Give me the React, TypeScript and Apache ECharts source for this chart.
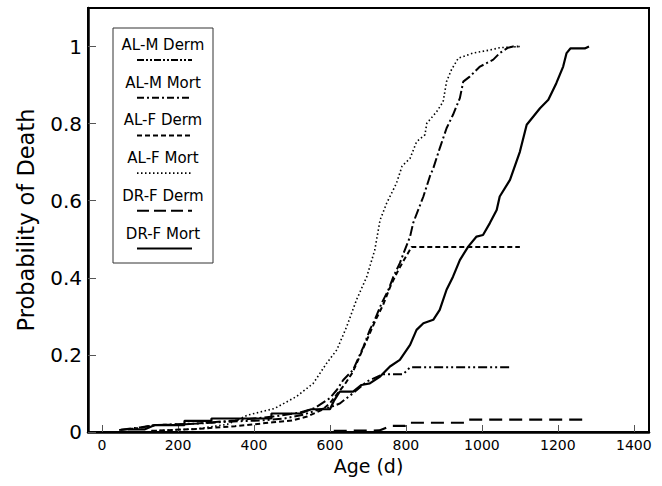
import React, { useEffect, useRef } from "react";
import * as echarts from "echarts";

const xTicks = [0, 200, 400, 600, 800, 1000, 1200, 1400];
const yTicks = [0, 0.2, 0.4, 0.6, 0.8, 1];
const xAxisName = "Age (d)";
const yAxisName = "Probability of Death";
const seriesNames = ["AL-M Derm", "AL-M Mort", "AL-F Derm", "AL-F Mort", "DR-F Derm", "DR-F Mort"];

// [age (d), probability]
const alMDerm = [
  [45, 0.005], [95, 0.01], [140, 0.018], [220, 0.02], [300, 0.025], [360, 0.028], [420, 0.03],
  [480, 0.035], [530, 0.045], [570, 0.058], [600, 0.064], [626, 0.074], [660, 0.1], [697, 0.131],
  [740, 0.15], [793, 0.15], [811, 0.168], [1078, 0.168],
];
const alMMort = [
  [50, 0.006], [100, 0.012], [140, 0.018], [250, 0.022], [350, 0.03], [450, 0.04], [520, 0.05],
  [560, 0.062], [600, 0.088], [618, 0.109], [635, 0.135], [661, 0.161], [688, 0.221], [705, 0.265],
  [718, 0.291], [736, 0.334], [754, 0.369], [767, 0.403], [784, 0.438], [797, 0.472], [811, 0.507],
  [819, 0.542], [846, 0.611], [863, 0.663], [872, 0.684], [889, 0.736], [907, 0.788], [924, 0.823],
  [942, 0.866], [951, 0.909], [968, 0.922], [995, 0.948], [1030, 0.966], [1047, 0.983],
  [1069, 0.997], [1082, 1.0], [1095, 1.0],
];
const alFDerm = [
  [130, 0.003], [250, 0.008], [350, 0.015], [400, 0.02], [450, 0.025], [500, 0.03], [540, 0.04],
  [580, 0.058], [600, 0.075], [620, 0.1], [640, 0.125], [660, 0.155], [680, 0.2], [700, 0.245],
  [720, 0.29], [740, 0.33], [760, 0.38], [780, 0.42], [800, 0.455], [815, 0.48], [1100, 0.48],
];
const alFMort = [
  [130, 0.003], [250, 0.008], [330, 0.02], [384, 0.044], [454, 0.061], [512, 0.092], [556, 0.126],
  [591, 0.178], [618, 0.213], [644, 0.273], [670, 0.343], [697, 0.403], [718, 0.472], [732, 0.55],
  [749, 0.593], [775, 0.645], [790, 0.69], [811, 0.71], [828, 0.753], [850, 0.771], [855, 0.801],
  [881, 0.831], [898, 0.857], [907, 0.909], [920, 0.94], [938, 0.97], [977, 0.983], [1021, 0.991],
  [1047, 0.997], [1100, 1.0],
];
const drFDerm = [
  [610, 0.003], [730, 0.004], [745, 0.01], [760, 0.016], [798, 0.016], [802, 0.024], [955, 0.024],
  [960, 0.032], [1280, 0.032],
];
const drFMort = [
  [68, 0.007], [113, 0.007], [139, 0.018], [217, 0.018], [217, 0.029], [288, 0.029], [288, 0.035],
  [446, 0.035], [446, 0.048], [521, 0.048], [551, 0.059], [600, 0.059], [610, 0.08], [626, 0.105],
  [661, 0.105], [683, 0.122], [705, 0.126], [732, 0.144], [758, 0.17], [784, 0.187], [802, 0.213],
  [811, 0.226], [828, 0.265], [846, 0.282], [872, 0.291], [889, 0.317], [907, 0.369], [924, 0.403],
  [942, 0.446], [964, 0.481], [986, 0.507], [1003, 0.511], [1021, 0.542], [1039, 0.576],
  [1047, 0.611], [1074, 0.654], [1100, 0.727], [1118, 0.797], [1135, 0.818], [1153, 0.84],
  [1175, 0.862], [1196, 0.905], [1214, 0.948], [1223, 0.983], [1233, 0.995], [1271, 0.995],
  [1282, 1.0],
];

const seriesData = [alMDerm, alMMort, alFDerm, alFMort, drFDerm, drFMort];
const lineTypes: any[] = [
  [9, 3, 2, 3, 2, 3],
  [10, 3, 2, 3],
  [5, 3],
  [1.5, 2.5],
  [13, 7],
  "solid",
];
const lineWidths = [2, 2, 2, 1.6, 2.2, 2.2];
const legendDash: any[] = [
  [7, 2, 2, 2, 2, 2],
  [7, 3, 2, 3],
  [5, 3],
  [1.5, 2.5],
  [12, 5],
  null,
];

const FONT = '"DejaVu Sans", "Liberation Sans", sans-serif';

export default function App() {
  const ref = useRef<HTMLDivElement>(null);
  useEffect(() => {
    if (!ref.current) return;
    const chart = echarts.init(ref.current, undefined, { renderer: "svg" });

    const legendEls: any[] = [
      {
        type: "rect",
        shape: { x: 113, y: 28, width: 100, height: 235 },
        style: { fill: "#fff", stroke: "#333", lineWidth: 1 },
        z: 100,
      },
    ];
    seriesNames.forEach((name, i) => {
      const ty = 45 + 37.7 * i;
      legendEls.push({
        type: "text",
        x: 163,
        y: ty,
        style: {
          text: name,
          fill: "#000",
          fontSize: 15,
          fontFamily: FONT,
          align: "center",
          verticalAlign: "middle",
        },
        z: 101,
      });
      legendEls.push({
        type: "line",
        shape: { x1: 137, y1: ty + 15, x2: 192, y2: ty + 15 },
        style: {
          stroke: "#000",
          lineWidth: i === 3 ? 1.6 : 2,
          lineDash: legendDash[i] || undefined,
        },
        z: 101,
      });
    });

    const fmt = (v: number) => String(v);

    chart.setOption({
      animation: false,
      backgroundColor: "#fff",
      grid: {
        left: 88,
        right: 13,
        top: 8,
        bottom: 54,
        containLabel: false,
        show: true,
        borderColor: "#000",
        borderWidth: 2,
        backgroundColor: "transparent",
      },
      xAxis: {
        type: "value",
        min: -37,
        max: 1440,
        name: xAxisName,
        nameLocation: "middle",
        nameGap: 24,
        nameTextStyle: { fontSize: 19, fontFamily: FONT, color: "#000" },
        axisLine: { show: true, onZero: false, lineStyle: { color: "#000", width: 2.5 } },
        axisTick: {
          show: true,
          inside: true,
          length: 7,
          customValues: xTicks,
          lineStyle: { color: "#555", width: 1 },
        },
        axisLabel: {
          customValues: xTicks,
          formatter: fmt,
          fontSize: 14,
          fontFamily: FONT,
          color: "#000",
          margin: 6,
        },
        splitLine: { show: false },
      },
      yAxis: {
        type: "value",
        min: 0,
        max: 1.1,
        name: yAxisName,
        nameLocation: "middle",
        nameGap: 51,
        nameTextStyle: { fontSize: 22.5, fontFamily: FONT, color: "#000" },
        axisLine: { show: true, onZero: false, lineStyle: { color: "#000", width: 2.5 } },
        axisTick: {
          show: true,
          inside: true,
          length: 8,
          customValues: yTicks,
          lineStyle: { color: "#555", width: 1 },
        },
        axisLabel: {
          customValues: yTicks,
          formatter: fmt,
          fontSize: 20,
          fontFamily: FONT,
          color: "#000",
          margin: 6,
        },
        splitLine: { show: false },
      },
      series: seriesNames.map((name, i) => ({
        name,
        type: "line",
        data: seriesData[i],
        symbol: "none",
        silent: true,
        lineStyle: { color: "#000", width: lineWidths[i], type: lineTypes[i] },
      })),
      graphic: legendEls,
    });

    return () => chart.dispose();
  }, []);

  return (
    <div
      ref={ref}
      style={{ position: "absolute", left: 0, top: 0, width: 662, height: 486 }}
    />
  );
}
